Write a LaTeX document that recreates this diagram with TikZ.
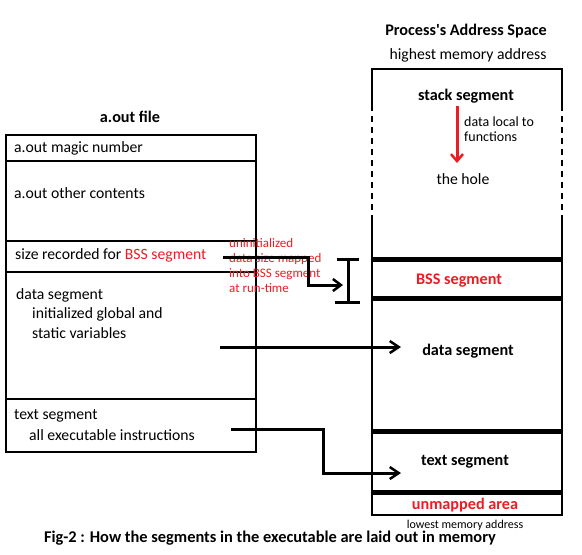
\documentclass[tikz,border=0pt]{standalone}
\usepackage{fontspec}
\setmainfont{Carlito}
\usetikzlibrary{arrows.meta}
\definecolor{segred}{RGB}{237,28,36}
\tikzset{
  txt/.style={anchor=west, inner sep=0pt, font=\fontsize{15.7}{18}\selectfont},
  ctxt/.style={anchor=center, inner sep=0pt, font=\fontsize{15.7}{18}\selectfont},
  btxt/.style={anchor=center, inner sep=0pt, font=\fontsize{16.2}{18}\selectfont\bfseries},
  rtxt/.style={anchor=west, inner sep=0pt, text=segred, font=\fontsize{13}{15}\selectfont, align=left},
  boxline/.style={line width=1.5pt},
  sepline/.style={line width=2.2pt},
  thick sep/.style={line width=5pt},
  conn/.style={line width=3pt, -{Straight Barb[length=9pt,width=12pt,line width=2.5pt]}},
}
\begin{document}
\begin{tikzpicture}[x=1pt,y=-1pt]
\useasboundingbox[fill=white] (0,0) rectangle (582,555);
% ---------- a.out file ----------
\node[btxt] (aouttitle) at (130,117) {a.out file};
\draw[boxline] (6,135) rectangle (256,452);
\draw[boxline] (6,161) -- (256,161);
\draw[sepline] (6,241) -- (256,241);
\draw[sepline] (6,272) -- (256,272);
\draw[boxline] (6,399) -- (256,399);
\node[txt] (magic) at (14,148) {a.out magic number};
\node[txt] (other) at (14,193) {a.out other contents};
\node[txt] (bsssize) at (15,255) {size recorded for \textcolor{segred}{BSS segment}};
\node[txt] (dataseg) at (16,295) {data segment};
\node[txt] (datainit) at (32,314) {initialized global and};
\node[txt] (datastat) at (32,333) {static variables};
\node[txt] (textseg) at (14,416) {text segment};
\node[txt] (textall) at (29,435) {all executable instructions};
% ---------- process address space ----------
\node[btxt] (pastitle) at (466,31) {Process{\addfontfeatures{Mapping=}'}s Address Space};
\node[ctxt] (highest) at (468,55) {highest memory address};
\draw[boxline] (372,105) -- (372,69) -- (562,69) -- (562,105);
\draw[boxline, dash pattern=on 6pt off 5pt] (372,105) -- (372,217);
\draw[boxline, dash pattern=on 6pt off 5pt] (562,105) -- (562,217);
\draw[boxline] (372,217) -- (372,515) -- (562,515) -- (562,217);
\draw[thick sep] (371,259) -- (563,259);
\draw[thick sep] (371,298) -- (563,298);
\draw[thick sep] (371,431) -- (563,431);
\draw[thick sep] (371,492) -- (563,492);
\node[btxt] (stack) at (466,96) {stack segment};
\node[ctxt] (hole) at (463,179) {the hole};
\node[anchor=west, inner sep=0pt, font=\fontsize{14}{15}\selectfont, align=left] (local) at (464,129) {data local to\\functions};
\coordinate (redtop) at (457,106);
\coordinate (redbot) at (457,163);
\draw[line width=3pt, segred, -{Straight Barb[length=7pt,width=12pt,line width=2.5pt]}] (redtop) -- (redbot);
\node[btxt, text=segred] (bss) at (459,281) {BSS segment};
\node[btxt] (datar) at (468,351) {data segment};
\node[btxt] (textr) at (465,462) {text segment};
\node[btxt, text=segred] (unmapped) at (465,505) {unmapped area};
\node[ctxt, font=\fontsize{12}{14}\selectfont] (lowest) at (465,525) {lowest memory address};
\node[btxt, font=\fontsize{16.4}{18}\selectfont\bfseries] (caption) at (270,538) {Fig-2 : How the segments in the executable are laid out in memory};
% ---------- BSS mapping ----------
\node[rtxt] (uninit) at (229,265.5) {uninitialized\\data size mapped\\into BSS segment\\at run-time};
\coordinate (bssA) at (223,257);
\coordinate (bssB) at (343,285);
\draw[line width=3pt, -{Straight Barb[length=8pt,width=12pt,line width=2.5pt]}] (bssA) -| (308,285) -- (bssB);
\coordinate (ibtop) at (348,259);
\coordinate (ibbot) at (348,302);
\draw[line width=3pt] (ibtop) -- (ibbot);
\draw[line width=3pt] (337,259) -- (359,259);
\draw[line width=3pt] (335,302) -- (360,302);
% ---------- data & text arrows ----------
\coordinate (dataA) at (220,347);
\coordinate (dataB) at (401,347);
\draw[conn] (dataA) -- (dataB);
\coordinate (textA) at (231,429);
\coordinate (textB) at (401,473);
\draw[conn] (textA) -- (323,429) |- (textB);
\end{tikzpicture}
\end{document}
